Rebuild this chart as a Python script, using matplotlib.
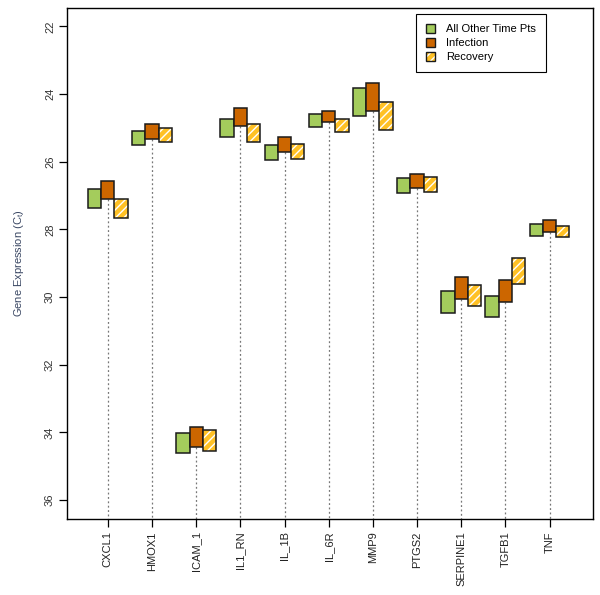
import matplotlib.pyplot as plt
from matplotlib.patches import Patch
import numpy as np

plt.rcParams['font.family'] = ['Liberation Sans', 'DejaVu Sans']
plt.rcParams['hatch.linewidth'] = 1.0

GENES = ["CXCL1", "HMOX1", "ICAM_1", "IL1_RN", "IL_1B", "IL_6R",
         "MMP9", "PTGS2", "SERPINE1", "TGFB1", "TNF"]

# Ct ranges (low = top of box, high = bottom of box, y axis is inverted)
other_lo = [26.81, 25.09, 34.02, 24.75, 25.51, 24.60, 23.81, 26.49, 29.81, 29.96, 27.84]
other_hi = [27.36, 25.50, 34.60, 25.26, 25.96, 24.97, 24.64, 26.93, 30.47, 30.59, 28.21]
inf_lo = [26.56, 24.90, 33.83, 24.42, 25.26, 24.50, 23.66, 26.35, 29.40, 29.49, 27.72]
inf_hi = [27.09, 25.32, 34.43, 24.94, 25.71, 24.84, 24.50, 26.78, 30.05, 30.14, 28.09]
rec_lo = [27.11, 25.00, 33.94, 24.90, 25.49, 24.75, 24.23, 26.46, 29.64, 28.84, 27.90]
rec_hi = [27.65, 25.41, 34.55, 25.42, 25.93, 25.12, 25.06, 26.91, 30.27, 29.61, 28.24]

GREEN = "#a4cc5c"
ORANGE = "#cc6600"
YELLOW = "#ffc125"
EDGE = "#1a1a1a"
W = 0.3

x = np.arange(1, len(GENES) + 1)
other_lo = np.array(other_lo); other_hi = np.array(other_hi)
inf_lo = np.array(inf_lo); inf_hi = np.array(inf_hi)
rec_lo = np.array(rec_lo); rec_hi = np.array(rec_hi)

fig = plt.figure(figsize=(6.0, 5.95), dpi=100)
ax = fig.add_axes([0.112, 0.1277, 0.876, 0.8593])

YMIN, YMAX = 21.45, 36.56

# dotted guide from the axis bottom up to the infection box
ax.vlines(x, inf_hi, YMAX, colors="#777777", linestyles=(0, (1.5, 2)), lw=0.9, zorder=1)

ax.bar(x - W, other_hi - other_lo, bottom=other_lo, width=W,
       color=GREEN, edgecolor=EDGE, lw=1.1, zorder=3)
ax.bar(x, inf_hi - inf_lo, bottom=inf_lo, width=W,
       color=ORANGE, edgecolor=EDGE, lw=1.1, zorder=3)
# recovery: white hatch, then a black outline on top
ax.bar(x + W, rec_hi - rec_lo, bottom=rec_lo, width=W,
       color=YELLOW, edgecolor="white", hatch="////", lw=0, zorder=3)
ax.bar(x + W, rec_hi - rec_lo, bottom=rec_lo, width=W,
       fill=False, edgecolor=EDGE, lw=1.1, zorder=4)

ax.set_xlim(0.08, 11.98)
ax.set_ylim(YMAX, YMIN)

ax.set_yticks(np.arange(22, 37, 2))
ax.set_yticklabels([str(v) for v in range(22, 37, 2)], rotation=90, va="center",
                   fontsize=8, color="#333333")
ax.set_xticks(x)
ax.set_xticklabels(GENES, rotation=90, fontsize=8, color="#222222")
ax.tick_params(direction="out", length=5.8, width=0.9, pad=3)

for s in ax.spines.values():
    s.set_linewidth(1.0)

ax.set_ylabel(r"Gene Expression (C$_\mathregular{t}$)", fontsize=8,
              color="#3a4763", labelpad=14)

handles = [Patch(facecolor=GREEN, edgecolor=EDGE, lw=1.0),
           Patch(facecolor=ORANGE, edgecolor=EDGE, lw=1.0),
           (Patch(facecolor=YELLOW, edgecolor="white", hatch="////", lw=0),
            Patch(fill=False, edgecolor=EDGE, lw=1.0))]
leg = ax.legend(handles, ["All Other Time Pts", "Infection", "Recovery"],
                loc="upper left", bbox_to_anchor=(0.663, 0.987), borderaxespad=0,
                fontsize=8, handlelength=0.8, handleheight=0.8, handletextpad=1.0,
                labelspacing=0.35, borderpad=0.9, fancybox=False, framealpha=1)
leg.get_frame().set_edgecolor("black")
leg.get_frame().set_linewidth(0.8)

plt.savefig("out.png", dpi=100)
